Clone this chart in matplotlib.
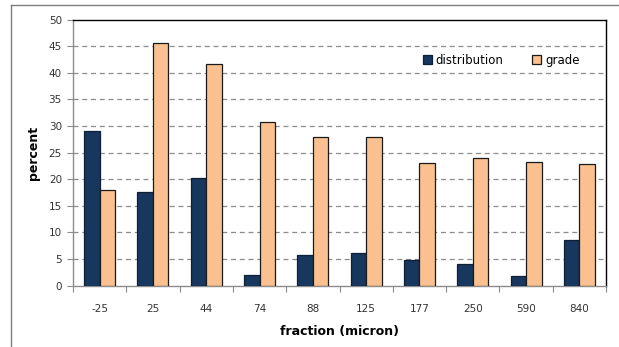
import matplotlib
matplotlib.use("Agg")
import matplotlib.pyplot as plt
import numpy as np
from matplotlib.lines import Line2D

categories = ["-25", "25", "44", "74", "88", "125", "177", "250", "590", "840"]
distribution = [29.1, 17.6, 20.3, 2.1, 5.8, 6.1, 4.9, 4.1, 1.9, 8.5]
grade = [17.9, 45.5, 41.6, 30.8, 28.0, 28.0, 23.0, 24.0, 23.3, 22.8]

W, H = 619, 347
fig = plt.figure(figsize=(W / 100, H / 100), dpi=100)
ax = fig.add_axes([73 / W, 1 - 285.7 / H, (606 - 73) / W, (285.7 - 19.5) / H])

x = np.arange(len(categories))
bw = 0.29
navy = "#17375E"
orange = "#FAC090"
ax.bar(x - bw / 2, distribution, bw, color=navy, edgecolor="#0d1f36", linewidth=0.9, zorder=3, label="distribution")
ax.bar(x + bw / 2, grade, bw, color=orange, edgecolor="#1a1a1a", linewidth=0.9, zorder=3, label="grade")

ax.set_xlim(-0.5, len(categories) - 0.5)
ax.set_ylim(0, 50)
ax.set_yticks(np.arange(0, 51, 5))
for v in range(5, 50, 5):
    ax.axhline(v, color="#8c8c8c", linestyle=(0, (4, 3)), linewidth=0.9, zorder=1)

ax.set_xticks(np.arange(-0.5, len(categories), 1.0))
ax.set_xticklabels([])
ax.set_xticks(x, minor=True)
ax.set_xticklabels(categories, minor=True)
ax.tick_params(axis="x", which="major", length=4, color="#8c8c8c", direction="out")
ax.tick_params(axis="x", which="minor", length=0, pad=13, labelsize=7.5, labelcolor="#333333")
ax.tick_params(axis="y", length=4, color="#8c8c8c", direction="out", labelsize=7.5, labelcolor="#333333", pad=4)

for s in ["left", "bottom"]:
    ax.spines[s].set_color("#8c8c8c")
    ax.spines[s].set_linewidth(1.0)
for s in ["top", "right"]:
    ax.spines[s].set_color("#000000")
    ax.spines[s].set_linewidth(1.0)

ax.set_ylabel("percent", fontsize=9, fontweight="bold", labelpad=6)
ax.set_xlabel("fraction (micron)", fontsize=9, fontweight="bold", labelpad=8)

leg = ax.legend(loc="upper right", bbox_to_anchor=(0.97, 0.91), ncol=2, frameon=False,
                fontsize=8.5, handlelength=0.8, handleheight=0.8, handletextpad=0.3,
                columnspacing=2.4)

# outer chart border (top and left visible)
fig.add_artist(Line2D([11 / W, 1], [1 - 4.5 / H, 1 - 4.5 / H], color="#7f7f7f", linewidth=1.0, transform=fig.transFigure))
fig.add_artist(Line2D([11 / W, 11 / W], [0, 1 - 4.5 / H], color="#7f7f7f", linewidth=1.0, transform=fig.transFigure))

fig.savefig("out.png", dpi=100)
